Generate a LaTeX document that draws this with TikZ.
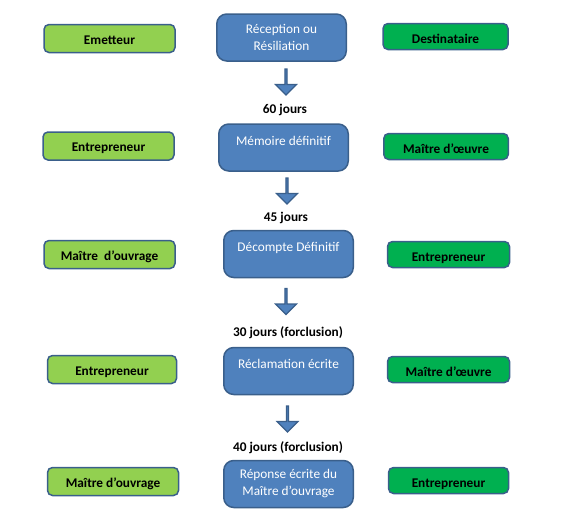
\documentclass[tikz,border=0pt]{standalone}
\usepackage{fontspec}
\setmainfont{Carlito}
\usetikzlibrary{shapes.arrows}
\definecolor{bleu}{HTML}{4F81BD}
\definecolor{bord}{HTML}{3A5F8B}
\definecolor{vertclair}{HTML}{92D050}
\definecolor{vertfonce}{HTML}{00B050}

\begin{document}
\begin{tikzpicture}[x=1pt, y=-1pt,
    font=\fontsize{13.3}{17}\selectfont,
    acteur/.style={draw=bord, line width=1.5pt, rounded corners=5pt, font=\fontsize{13.3}{17}\selectfont\bfseries, inner sep=0pt},
    emet/.style={acteur, fill=vertclair, minimum width=131pt, minimum height=28pt, text height=11pt, text depth=0pt},
    dest/.style={acteur, fill=vertfonce, minimum width=122pt, minimum height=26pt, text height=13pt, text depth=0pt},
    etape/.style={draw=bord, line width=1.5pt, fill=bleu, rounded corners=10pt, text=white, minimum width=129.5pt, minimum height=47pt, align=center, inner sep=0pt},
    haut/.style={text height=10pt, text depth=15pt},
    fleche/.style={single arrow, rotate=-90, draw=bord, line width=1.2pt, fill=bleu, minimum height=26pt, minimum width=21pt, single arrow head extend=5.5pt, inner sep=0pt},
    delai/.style={font=\fontsize{13.3}{17}\selectfont\bfseries}]

    \useasboundingbox (0, 0) rectangle (563, 514);

    \node[emet] (a) at (109.5, 38.5) {Emetteur};
    \node[etape] (b) at (281.5, 37.5) {Réception ou\\Résiliation};
    \node[dest, minimum width=125pt] (c) at (445.5, 36.5) {Destinataire};
    \node[fleche] (d) at (286, 81.5) {};
    \node[delai] (e) at (285, 110) {60 jours};

    \node[emet] (f) at (108.5, 146) {Entrepreneur};
    \node[etape, haut] (g) at (283.5, 147.5) {Mémoire définitif};
    \node[dest, minimum width=124.5pt] (h) at (446, 146.5) {Maître d’œuvre};
    \node[fleche] (i) at (287, 190.5) {};
    \node[delai] (j) at (286, 218) {45 jours};

    \node[emet] (k) at (109.5, 254.5) {Maître\ \ d’ouvrage};
    \node[etape, haut] (l) at (288.5, 254) {Décompte Définitif};
    \node[dest] (m) at (448.5, 254.5) {Entrepreneur};
    \node[fleche] (n) at (286, 301) {};
    \node[delai] (o) at (288, 333) {30 jours (forclusion)};

    \node[emet, minimum width=129pt] (p) at (112, 369.5) {Entrepreneur};
    \node[etape, haut] (q) at (288.5, 371) {Réclamation écrite};
    \node[dest] (r) at (448.5, 369.5) {Maître d’œuvre};
    \node[fleche] (s) at (287.5, 418.5) {};
    \node[delai] (t) at (288, 448) {40 jours (forclusion)};

    \node[emet] (u) at (113, 481.5) {Maître d’ouvrage};
    \node[etape] (v) at (288.5, 484) {Réponse écrite du\\Maître d’ouvrage};
    \node[dest, minimum width=120pt] (w) at (448.5, 480.5) {Entrepreneur};

\end{tikzpicture}
\end{document}
